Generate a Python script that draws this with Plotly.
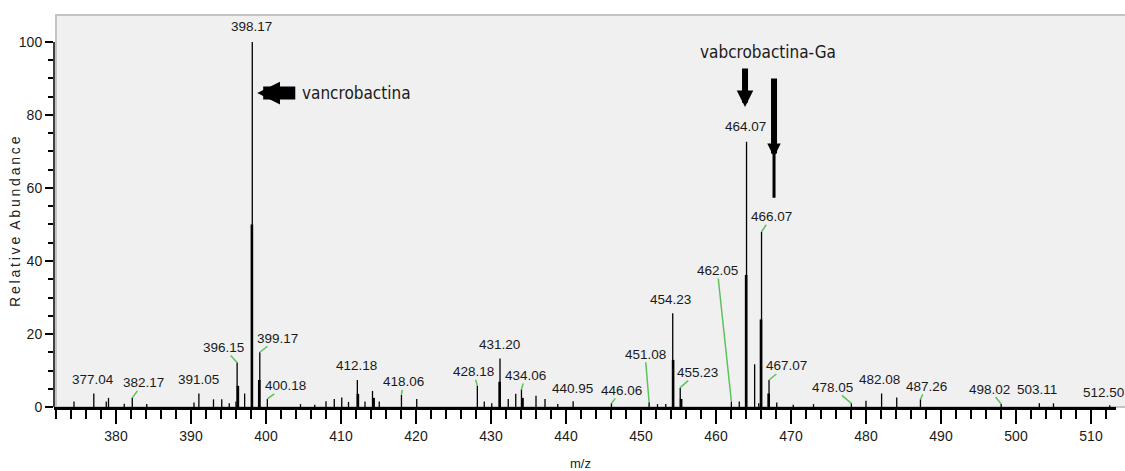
import plotly.graph_objects as go

# ---------------- data ----------------
peak_mz = [374.4, 377.04, 378.7, 379.0, 381.1, 382.17, 384.1, 390.4, 391.05, 393.0,
           394.1, 395.1, 396.0, 396.15, 397.15, 398.17, 399.17, 400.18, 404.6, 406.5,
           408.0, 409.1, 410.1, 411.0, 412.18, 413.2, 414.2, 415.1, 418.06, 420.1,
           428.18, 429.1, 430.1, 431.20, 432.3, 433.3, 434.06, 436.0, 437.2, 438.9,
           440.95, 446.06, 451.08, 452.2, 453.3, 454.23, 455.23, 462.05, 463.1, 464.07,
           465.15, 465.7, 466.07, 467.07, 468.1, 470.3, 473.0, 478.05, 480.0, 482.08,
           484.1, 487.26, 498.02, 503.11, 505.0, 512.50]
peak_int = [1.5, 3.7, 1.5, 2.5, 0.9, 2.5, 0.8, 1.2, 3.7, 2.1,
            2.1, 1.0, 1.5, 12.2, 3.7, 100.0, 15.0, 2.2, 0.8, 0.6,
            1.6, 2.2, 2.6, 1.4, 7.4, 1.5, 4.4, 1.5, 3.3, 2.2,
            5.8, 1.5, 1.0, 13.3, 2.2, 3.6, 4.8, 3.1, 2.2, 0.8,
            1.6, 1.0, 1.3, 0.8, 0.8, 25.7, 5.3, 1.5, 1.5, 72.7,
            11.7, 1.0, 48.0, 7.4, 1.2, 0.6, 0.8, 1.0, 1.7, 3.7,
            2.6, 2.1, 0.8, 1.0, 1.0, 0.5]

# broader lower part of the profile peaks
shoulder_mz = [396.25, 398.12, 399.1, 412.25, 414.35, 431.15, 434.2, 454.28, 455.35,
               464.02, 466.0, 467.02]
shoulder_int = [5.8, 50.0, 7.4, 3.6, 2.5, 6.9, 2.5, 12.9, 2.2, 36.2, 24.0, 3.7]

# labelled peaks
label_mz = [377.04, 382.17, 391.05, 396.15, 398.17, 399.17, 400.18, 412.18, 418.06,
            428.18, 431.20, 434.06, 440.95, 446.06, 451.08, 454.23, 455.23, 462.05,
            464.07, 466.07, 467.07, 478.05, 482.08, 487.26, 498.02, 503.11, 512.50]
label_leader = [False, True, False, True, False, True, True, False, True,
                True, False, True, False, True, True, False, True, True,
                False, True, True, True, False, True, True, False, False]
# label offsets from the peak top, in pixels (layout)
label_dx = [-1, 11, 0, -14, -1, 18, 18, -1, 2, -4, -1, 4, -1, 10, -4, -2, 17, -14,
            -1, 10, 17, -19, -2, 6, -12, -2, -6]
label_dy = [-14, -15, -14, -15, -15, -14, -13, -14, -13, -14, -14, -14, -13, -13, -48,
            -14, -15, -131, -15, -15, -14, -16, -14, -13, -15, -14, -13]

x_ticks_major = 10
x_ticks_minor = 2
y_ticks_major = 20
y_ticks_minor = 5

NUMFONT = "Liberation Sans, Arial, sans-serif"
NARROW = "Liberation Sans Narrow, Arial Narrow, DejaVu Sans Condensed, Liberation Sans, sans-serif"
GREEN = "#5cc25c"
TXT = "#1a1a1a"

L, R, T, B = 54, 9, 16, 64
W, H = 1125, 471
PW, PH = W - L - R, H - T - B


def sticks(xs, ys):
    X, Y = [], []
    for x, y in zip(xs, ys):
        X += [x, x, None]
        Y += [0, y, None]
    return X, Y


def spaced(s):
    # letter-spaced title, as in the reference
    return "\u2009".join(s)


fig = go.Figure()
sx, sy = sticks(shoulder_mz, shoulder_int)
fig.add_trace(go.Scatter(x=sx, y=sy, mode="lines", line=dict(color="black", width=2.6),
                         hoverinfo="skip"))
px_, py_ = sticks(peak_mz, peak_int)
fig.add_trace(go.Scatter(x=px_, y=py_, mode="lines", line=dict(color="black", width=1.3),
                         hoverinfo="skip"))

height_of = dict(zip(peak_mz, peak_int))
annotations = []
for m, lead, dx, dy in zip(label_mz, label_leader, label_dx, label_dy):
    annotations.append(dict(
        x=m, y=height_of[m], xref="x", yref="y", text=f"{m:.2f}",
        showarrow=True, ax=dx, ay=dy, axref="pixel", ayref="pixel",
        arrowhead=0, arrowwidth=1.5, standoff=0,
        arrowcolor=GREEN if lead else "rgba(0,0,0,0)",
        font=dict(family=NUMFONT, size=13.5, color=TXT), borderpad=0))

# vancrobactina arrow + label
annotations.append(dict(
    x=398.17, y=86, xref="x", yref="y", text="vancrobactina",
    showarrow=True, ax=104, ay=0, axref="pixel", ayref="pixel",
    arrowhead=2, arrowwidth=13, arrowsize=0.35, standoff=5, arrowcolor="black",
    borderpad=6, font=dict(family=NARROW, size=17, color=TXT)))
# short down arrow to 464.07
annotations.append(dict(
    x=464.07, y=82.2, xref="x", yref="y", text="", xshift=-1.5,
    showarrow=True, ax=0, ay=-40, axref="pixel", ayref="pixel",
    arrowhead=2, arrowwidth=6, arrowsize=0.55, standoff=0, arrowcolor="black"))
# label of the Ga complex
annotations.append(dict(
    x=464.07, y=97.3, xref="x", yref="y", xshift=21.5, text="vabcrobactina-Ga",
    showarrow=False, font=dict(family=NARROW, size=17, color=TXT)))
# long down arrow toward 466.07
annotations.append(dict(
    x=466.07, y=68.5, xref="x", yref="y", text="", xshift=12.5,
    showarrow=True, ax=0, ay=-80, axref="pixel", ayref="pixel",
    arrowhead=2, arrowwidth=6, arrowsize=0.45, standoff=0, arrowcolor="black"))
annotations.append(dict(
    x=466.07, y=57.3, xref="x", yref="y", text="", xshift=12.5,
    showarrow=True, ax=0, ay=-48, axref="pixel", ayref="pixel",
    arrowhead=0, arrowwidth=3, standoff=0, arrowcolor="black"))

# axis titles
annotations.append(dict(
    xref="paper", yref="paper", x=(15 - L) / PW, y=(H - B - 222) / PH,
    text=spaced("Relative") + "\u2002" + spaced("Abundance"), textangle=-90,
    showarrow=False, xanchor="center", yanchor="middle",
    font=dict(family=NUMFONT, size=14, color="#222")))
annotations.append(dict(
    xref="paper", yref="paper", x=(580 - L) / PW, y=(H - B - 463) / PH,
    text="m/z", showarrow=False, xanchor="center", yanchor="middle",
    font=dict(family=NUMFONT, size=13, color="#222")))

shapes = [
    dict(type="rect", xref="paper", yref="paper", x0=2 / PW, x1=1.02, y0=0, y1=1.0026,
         fillcolor="#f0f0f0", line=dict(color="#c4c4c4", width=2), layer="below"),
    dict(type="line", xref="paper", yref="y", x0=0, x1=0, y0=0, y1=100,
         line=dict(color="black", width=1.5)),
]

fig.update_layout(
    width=W, height=H,
    margin=dict(l=L, r=R, t=T, b=B, autoexpand=False),
    paper_bgcolor="white", plot_bgcolor="rgba(0,0,0,0)",
    showlegend=False,
    annotations=annotations, shapes=shapes,
    xaxis=dict(range=[371.733, 513.333], showgrid=False, zeroline=False,
               automargin=False,
               showline=True, linecolor="black", linewidth=3,
               ticks="outside", ticklen=14, tickwidth=1.5, tickcolor="black",
               tick0=0, dtick=x_ticks_major,
               tickfont=dict(family=NUMFONT, size=14, color=TXT),
               minor=dict(dtick=x_ticks_minor, tick0=0, ticks="outside", ticklen=9,
                          tickwidth=1.5, tickcolor="black", showgrid=False)),
    yaxis=dict(range=[0, 107.12], showgrid=False, zeroline=False, showline=False,
               automargin=False,
               ticks="outside", ticklen=8, tickwidth=1.5, tickcolor="black",
               tick0=0, dtick=y_ticks_major,
               tickfont=dict(family=NUMFONT, size=14, color=TXT),
               minor=dict(tickmode="array",
                          tickvals=[v for v in range(0, 101, y_ticks_minor)],
                          ticks="outside", ticklen=5, tickwidth=1.5,
                          tickcolor="black", showgrid=False)),
)

fig.write_html("out.html")
